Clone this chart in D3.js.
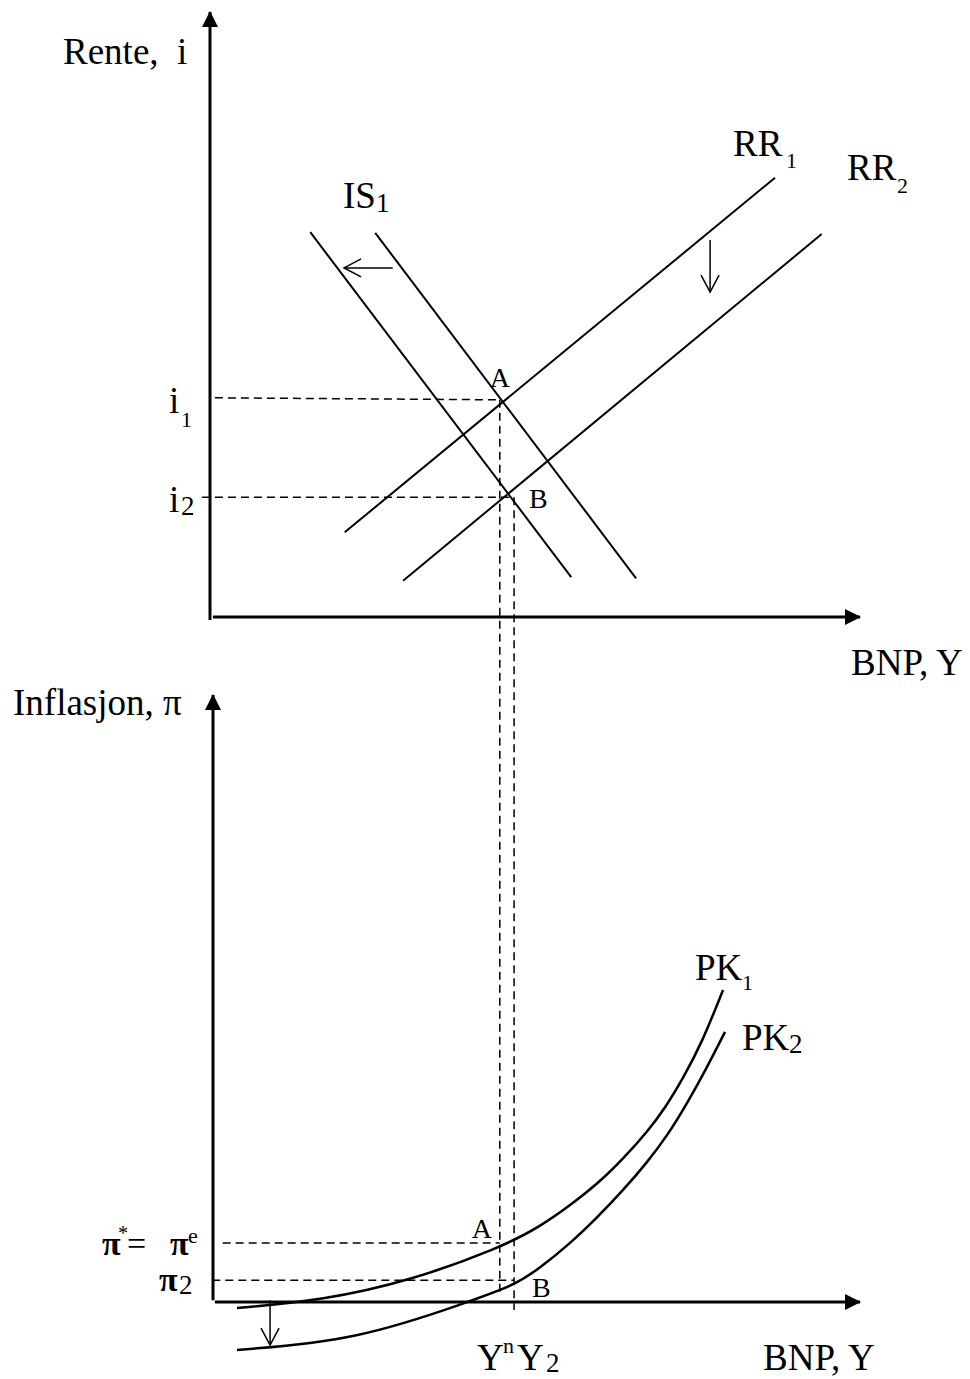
<!DOCTYPE html>
<html>
<head>
<meta charset="utf-8">
<script src="https://cdn.jsdelivr.net/npm/d3@7"></script>
<style>
  body { margin: 0; background: #fff; }
  text { font-family: "Liberation Serif", "Times New Roman", serif; fill: #000; white-space: pre; }
</style>
</head>
<body>
<div id="graph"></div>
<script>
// curves of the upper panel (Y, i) in 0..100 units
const IS0 = [[25.3, 63.5], [65.5, 6.4]];
const IS1 = [[15.3, 63.6], [55.5, 6.6]];
const RR1 = [[20.6, 14.0], [86.9, 72.6]];
const RR2 = [[29.6, 6.0], [94.1, 63.3]];

// Phillips curves of the lower panel (Y, pi)
const PK1 = [[4.0, -1.0], [17.3, 0.3], [30.7, 3.5], [44.5, 8.9], [50.7, 12.4], [55.8, 16.3],
             [59.9, 19.8], [63.5, 23.6], [67.2, 28.0], [70.0, 32.0], [72.7, 36.8], [75.6, 42.6], [78.9, 51.4]];
const PK2 = [[4.0, -7.9], [22.5, -6.3], [40.4, 0.3], [46.8, 2.8], [50.7, 5.6], [55.3, 9.6],
             [59.5, 13.9], [63.5, 18.4], [67.2, 23.0], [70.3, 27.4], [73.3, 32.6], [76.4, 38.6], [79.2, 44.5]];

// equilibrium values
const Yn = 44.5, Y2 = 46.7;
const i1 = 35.9, i2 = 19.8;
const piStar = 9.7, pi2 = 3.6;

// shift arrows
const isArrow = [[28.0, 57.7], [20.5, 57.7]];
const rrArrow = [[76.9, 62.3], [76.9, 53.7]];
const pkArrow = [[9.1, 0.3], [9.1, -7.1]];

const W = 970, H = 1379;

const svg = d3.select('#graph').append('svg')
    .attr('width', W).attr('height', H);

svg.append('rect').attr('width', W).attr('height', H).attr('fill', '#fff');

const defs = svg.append('defs');
defs.append('marker')
    .attr('id', 'solid')
    .attr('markerUnits', 'userSpaceOnUse')
    .attr('viewBox', '0 0 16 16')
    .attr('markerWidth', 16).attr('markerHeight', 16)
    .attr('refX', 15).attr('refY', 8)
    .attr('orient', 'auto')
  .append('path')
    .attr('d', 'M0,0L16,8L0,16Z')
    .attr('fill', '#000');
defs.append('marker')
    .attr('id', 'open')
    .attr('markerUnits', 'userSpaceOnUse')
    .attr('viewBox', '0 0 20 22')
    .attr('markerWidth', 20).attr('markerHeight', 22)
    .attr('refX', 18).attr('refY', 11)
    .attr('orient', 'auto')
  .append('path')
    .attr('d', 'M1,2L18,11L1,20')
    .attr('fill', 'none')
    .attr('stroke', '#000')
    .attr('stroke-width', 1.5);

const x = d3.scaleLinear().domain([0, 100]).range([211, 860]);
const yTop = d3.scaleLinear().domain([0, 100]).range([617, 12]);
const yBot = d3.scaleLinear().domain([0, 100]).range([1302, 695]);

const lineTop = d3.line().x(d => x(d[0])).y(d => yTop(d[1]));
const lineBot = d3.line().x(d => x(d[0])).y(d => yBot(d[1]));
const curveBot = d3.line().x(d => x(d[0])).y(d => yBot(d[1])).curve(d3.curveBasis);

/* axes ------------*/
const axes = svg.append('g').attr('stroke', '#000').attr('stroke-width', 3);
axes.append('line')
    .attr('x1', x(0) - 1).attr('y1', yTop(-0.5))
    .attr('x2', x(0) - 1).attr('y2', yTop(100))
    .attr('marker-end', 'url(#solid)');
axes.append('line')
    .attr('x1', x(0.3)).attr('y1', yTop(0))
    .attr('x2', x(100)).attr('y2', yTop(0))
    .attr('marker-end', 'url(#solid)');
axes.append('line')
    .attr('x1', x(0) + 2).attr('y1', yBot(0.3))
    .attr('x2', x(0) + 2).attr('y2', yBot(100))
    .attr('marker-end', 'url(#solid)');
axes.append('line')
    .attr('x1', x(0.6)).attr('y1', yBot(0))
    .attr('x2', x(100)).attr('y2', yBot(0))
    .attr('marker-end', 'url(#solid)');

/* dashed guides ------------*/
const dash = svg.append('g')
    .attr('stroke', '#000').attr('stroke-width', 1.5)
    .attr('stroke-dasharray', '8,5').attr('fill', 'none');
dash.append('line').attr('x1', x(0.6)).attr('y1', yTop(i1) - 2).attr('x2', x(Yn)).attr('y2', yTop(i1));
dash.append('line').attr('x1', x(-1.4)).attr('y1', yTop(i2)).attr('x2', x(Y2)).attr('y2', yTop(i2));
dash.append('line').attr('x1', x(Yn)).attr('y1', yTop(i1)).attr('x2', x(Yn)).attr('y2', yBot(1.5));
dash.append('line').attr('x1', x(Y2)).attr('y1', yTop(i2)).attr('x2', x(Y2)).attr('y2', yBot(-1.3));
dash.append('line').attr('x1', x(1.8)).attr('y1', yBot(piStar)).attr('x2', x(Yn)).attr('y2', yBot(piStar));
dash.append('line').attr('x1', x(0.2)).attr('y1', yBot(pi2)).attr('x2', x(Y2)).attr('y2', yBot(pi2));

/* curves ------------*/
const curves = svg.append('g').attr('stroke', '#000').attr('stroke-width', 2).attr('fill', 'none');
[IS0, IS1, RR1, RR2].forEach(d => curves.append('path').attr('d', lineTop(d)));
[PK1, PK2].forEach(d => curves.append('path').attr('d', curveBot(d)).attr('stroke-width', 2.5));

const arrows = svg.append('g').attr('stroke', '#000').attr('stroke-width', 1.5).attr('fill', 'none');
arrows.append('path').attr('d', lineTop(isArrow)).attr('marker-end', 'url(#open)');
arrows.append('path').attr('d', lineTop(rrArrow)).attr('marker-end', 'url(#open)');
arrows.append('path').attr('d', lineBot(pkArrow)).attr('marker-end', 'url(#open)');

/* labels ------------*/
// parts: t = text, size, dy = baseline offset from the label line, x = absolute x, bold
function label(px, py, parts, size) {
    const t = svg.append('text').attr('x', px).attr('y', py).attr('font-size', size);
    let shift = 0;
    parts.forEach(p => {
        const s = t.append('tspan').text(p.t);
        if (p.size) s.attr('font-size', p.size);
        if (p.bold) s.attr('font-weight', 'bold');
        if (p.x != null) s.attr('x', p.x);
        const dy = (p.dy || 0) - shift;
        if (dy) s.attr('dy', dy);
        shift = p.dy || 0;
    });
    return t;
}

const BIG = 37;
label(63, 64, [{t: 'Rente,  i'}], BIG);
label(851, 675, [{t: 'BNP, Y'}], BIG);
label(13, 715, [{t: 'Inflasjon, π'}], BIG);
label(763, 1370, [{t: 'BNP, Y'}], BIG);

label(343, 208, [{t: 'IS'}, {t: '1', size: 27, dy: 4}], BIG);
label(733, 156, [{t: 'RR'}, {t: '1', size: 22, dy: 12, x: 786}], BIG);
label(847, 180, [{t: 'RR'}, {t: '2', size: 22, dy: 13, x: 897}], BIG);
label(695, 980, [{t: 'PK'}, {t: '1', size: 22, dy: 10, x: 742}], BIG);
label(742, 1050, [{t: 'PK'}, {t: '2', size: 27, dy: 3, x: 789}], BIG);

label(169, 413, [{t: 'i'}, {t: '1', size: 22, dy: 14, x: 181}], BIG);
label(169, 512, [{t: 'i'}, {t: '2', size: 27, dy: 3, x: 181}], BIG);

label(x(Yn) - 10, yTop(i1) - 13, [{t: 'A'}], 28);
label(x(Y2) + 15, yTop(i2) + 11, [{t: 'B'}], 28);
label(x(Yn) - 28, yBot(piStar) - 5, [{t: 'A'}], 28);
label(x(Y2) + 18, yBot(pi2) + 17, [{t: 'B'}], 28);

label(102, 1255, [
    {t: 'π', bold: true},
    {t: '*', size: 20, dy: -15, x: 118},
    {t: '=', dy: 0, x: 127},
    {t: 'π', bold: true, x: 170},
    {t: 'e', size: 22, dy: -12, x: 188}
], 34);
label(159, 1291, [{t: 'π', bold: true}, {t: '2', size: 27, dy: 3, x: 179}], 34);

label(477, 1370, [{t: 'Y'}, {t: 'n', size: 22, dy: -17, x: 503}, {t: 'Y', dy: 0, x: 517}, {t: '2', size: 27, dy: 2, x: 546}], BIG);
</script>
</body>
</html>
